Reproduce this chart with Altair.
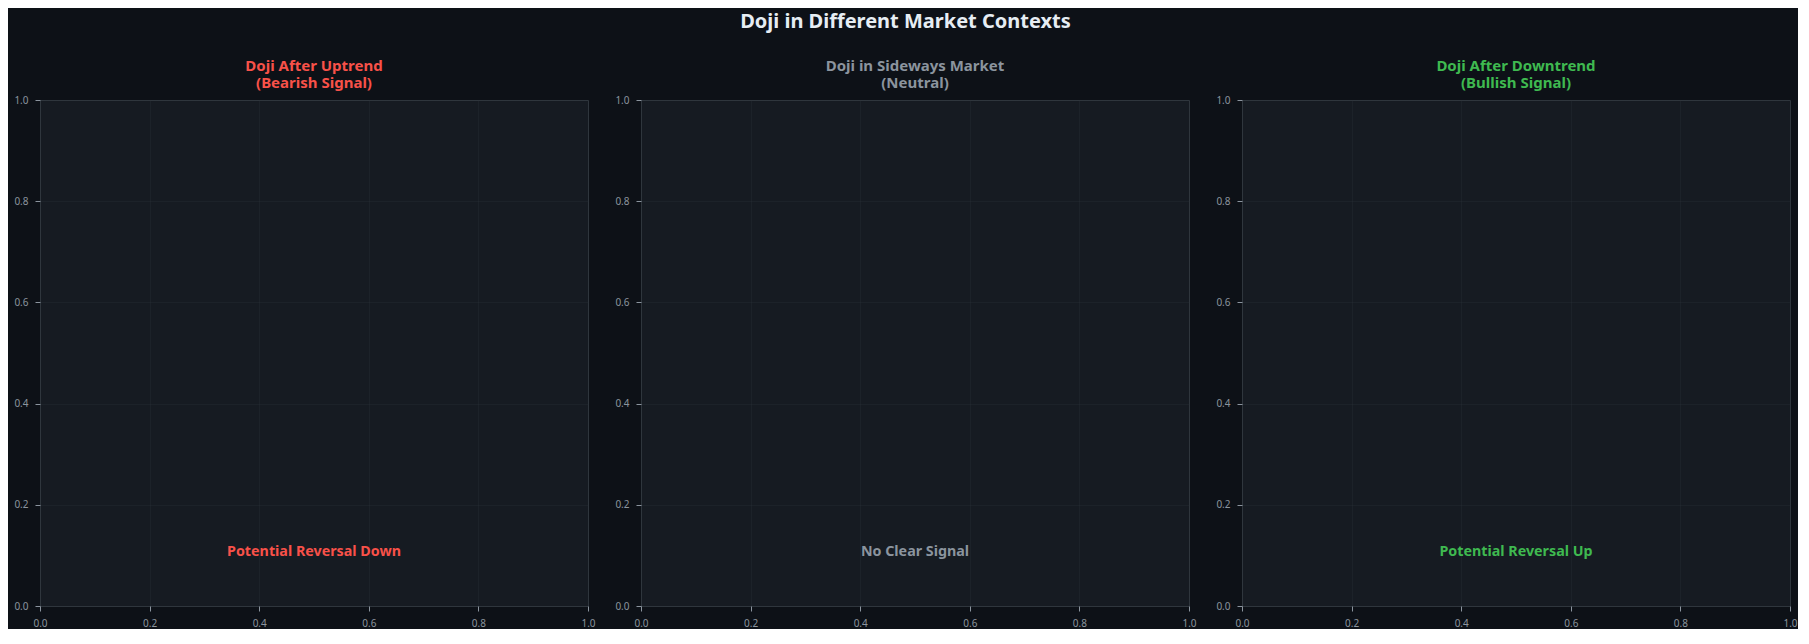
import altair as alt
import pandas as pd

FONT = "Noto Sans"

# Data
panel_titles = ["Doji After Uptrend", "Doji in Sideways Market", "Doji After Downtrend"]
panel_subtitles = ["(Bearish Signal)", "(Neutral)", "(Bullish Signal)"]
signal_labels = ["Potential Reversal Down", "No Clear Signal", "Potential Reversal Up"]
panel_colors = ["#f85149", "#8b949e", "#3fb950"]
label_x = [0.5, 0.5, 0.5]
label_y = [0.1, 0.1, 0.1]
axis_ticks = [0.0, 0.2, 0.4, 0.6, 0.8, 1.0]
main_title = "Doji in Different Market Contexts"


def panel(i):
    df = pd.DataFrame({"x": [label_x[i]], "y": [label_y[i]], "label": [signal_labels[i]]})
    sc = alt.Scale(domain=[0, 1], nice=False, zero=False)
    ax = alt.Axis(values=axis_ticks, format=".1f", title=None, labelFlush=False)
    return (
        alt.Chart(df)
        .mark_text(fontWeight="bold", fontSize=14.3, color=panel_colors[i], font=FONT,
                   baseline="middle", dy=-3)
        .encode(
            x=alt.X("x:Q", scale=sc, axis=ax),
            y=alt.Y("y:Q", scale=sc, axis=ax),
            text="label:N",
        )
        .properties(
            width=548,
            height=506,
            title=alt.TitleParams(
                text=[panel_titles[i], panel_subtitles[i]],
                color=panel_colors[i],
                fontSize=15,
                fontWeight="bold",
                font=FONT,
                lineHeight=17,
                offset=4,
                anchor="middle",
            ),
        )
    )


chart = (
    alt.hconcat(panel(0), panel(1), panel(2), spacing=18)
    .properties(
        title=alt.TitleParams(
            main_title,
            fontSize=20,
            fontWeight="bold",
            color="#e6edf3",
            font=FONT,
            anchor="middle",
            offset=27,
        ),
        background="#0d1117",
        padding={"top": 3, "left": 5, "right": 0, "bottom": 0},
    )
    .configure_view(fill="#161b22", stroke="#30363d", strokeWidth=1)
    .configure_axis(
        domain=False,
        tickColor="#8b949e",
        tickSize=5,
        tickWidth=1,
        labelColor="#8b949e",
        labelFontSize=10,
        labelFont=FONT,
        labelPadding=7,
        labelFlush=False,
        grid=True,
        gridColor="#30363d",
        gridOpacity=0.35,
        gridWidth=0.8,
    )
)

chart.save("out.html", embed_options={"renderer": "svg", "actions": False})
